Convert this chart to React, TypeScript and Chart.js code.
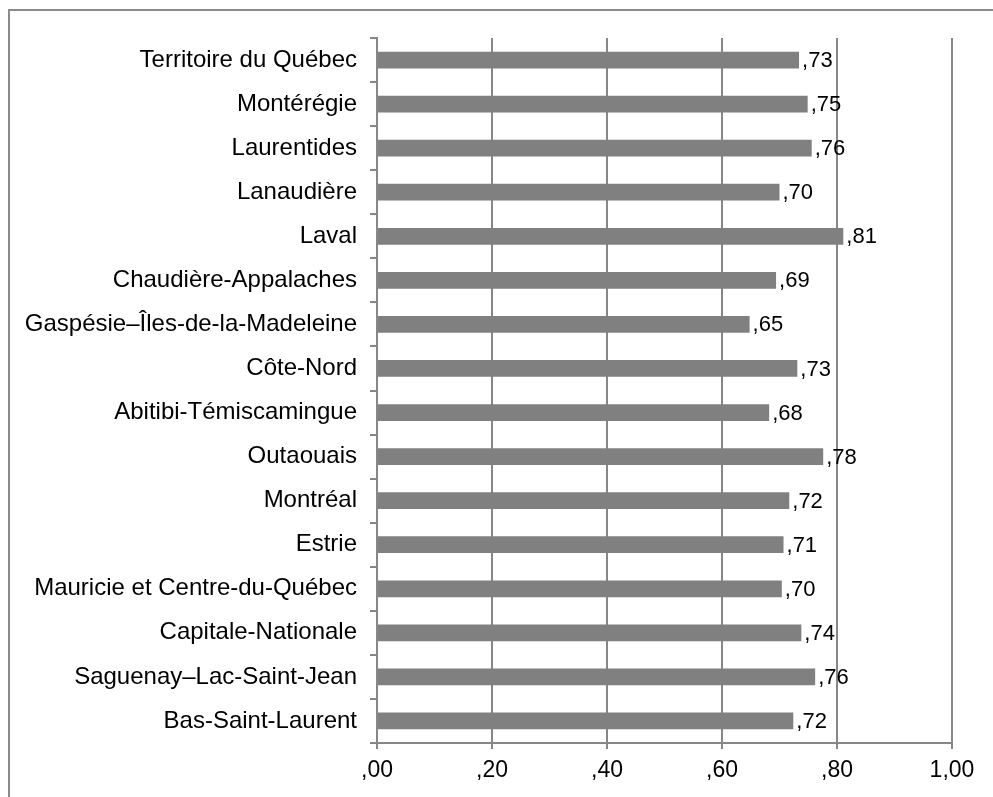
import React, { useEffect, useRef } from "react";
import { Chart, registerables } from "chart.js";

Chart.register(...registerables);

const categories: string[] = [
  "Territoire du Québec",
  "Montérégie",
  "Laurentides",
  "Lanaudière",
  "Laval",
  "Chaudière-Appalaches",
  "Gaspésie–Îles-de-la-Madeleine",
  "Côte-Nord",
  "Abitibi-Témiscamingue",
  "Outaouais",
  "Montréal",
  "Estrie",
  "Mauricie et Centre-du-Québec",
  "Capitale-Nationale",
  "Saguenay–Lac-Saint-Jean",
  "Bas-Saint-Laurent",
];

const values: number[] = [
  0.734, 0.749, 0.756, 0.7, 0.811, 0.694, 0.648, 0.731, 0.682, 0.776, 0.717,
  0.707, 0.704, 0.738, 0.762, 0.724,
];

const xMin = 0;
const xMax = 1;
const xStep = 0.2;

const FONT = "'Liberation Sans', Arial, sans-serif";
const GREY = "#878787";

function fmt(v: number): string {
  const s = Number(v).toFixed(2).replace(".", ",");
  return s.startsWith("0,") ? s.slice(1) : s;
}

const valueLabelPlugin = {
  id: "valueLabels",
  afterDatasetsDraw(chart: any) {
    const ctx = chart.ctx;
    const meta = chart.getDatasetMeta(0);
    ctx.save();
    ctx.fillStyle = "#000";
    ctx.font = `22px ${FONT}`;
    ctx.textAlign = "left";
    ctx.textBaseline = "middle";
    meta.data.forEach((bar: any, i: number) => {
      ctx.fillText(fmt(values[i]), bar.x + 3, bar.y + 1);
    });
    ctx.restore();
  },
};

const frameBorderPlugin = {
  id: "frameBorder",
  beforeDraw(chart: any) {
    const ctx = chart.ctx;
    ctx.save();
    ctx.fillStyle = "#fff";
    ctx.fillRect(0, 0, chart.width, chart.height);
    ctx.strokeStyle = "#8a8a8a";
    ctx.lineWidth = 2;
    ctx.strokeRect(9, 10, 1400, 1400);
    ctx.restore();
  },
};

export default function App() {
  const ref = useRef<HTMLCanvasElement | null>(null);

  useEffect(() => {
    if (!ref.current) return;
    Chart.defaults.font.family = FONT;
    const chart = new Chart(ref.current, {
      type: "bar",
      data: {
        labels: categories,
        datasets: [
          {
            data: values,
            backgroundColor: "#808080",
            borderWidth: 0,
            barPercentage: 0.38,
            categoryPercentage: 1,
          },
        ],
      },
      options: {
        indexAxis: "y",
        responsive: false,
        animation: false,
        events: [],
        layout: { padding: { top: 38, right: 41, left: 0, bottom: 0 } },
        plugins: {
          legend: { display: false },
          tooltip: { enabled: false },
          title: { display: false },
        },
        scales: {
          x: {
            min: xMin,
            max: xMax,
            ticks: {
              stepSize: xStep,
              callback: (v: any) => fmt(Number(v)),
              color: "#000",
              font: { family: FONT, size: 23 },
              padding: 8,
              maxRotation: 0,
              autoSkip: false,
            },
            grid: {
              color: GREY,
              lineWidth: 2,
              tickLength: 6,
              drawTicks: true,
            },
            border: { color: GREY, width: 2 },
            afterFit: (s: any) => {
              s.height = 54;
            },
          },
          y: {
            ticks: {
              color: "#000",
              font: { family: FONT, size: 24 },
              padding: 13,
              autoSkip: false,
            },
            grid: {
              offset: true,
              drawOnChartArea: false,
              color: GREY,
              lineWidth: 2,
              tickLength: 7,
            },
            border: { color: GREY, width: 2 },
            afterFit: (s: any) => {
              s.width = 377;
            },
          },
        },
      },
      plugins: [frameBorderPlugin, valueLabelPlugin],
    } as any);
    return () => chart.destroy();
  }, []);

  return (
    <div
      style={{
        position: "fixed",
        left: 0,
        top: 0,
        width: 993,
        height: 797,
        background: "#fff",
      }}
    >
      <canvas
        ref={ref}
        width={993}
        height={797}
        style={{ display: "block", width: 993, height: 797 }}
      />
    </div>
  );
}
